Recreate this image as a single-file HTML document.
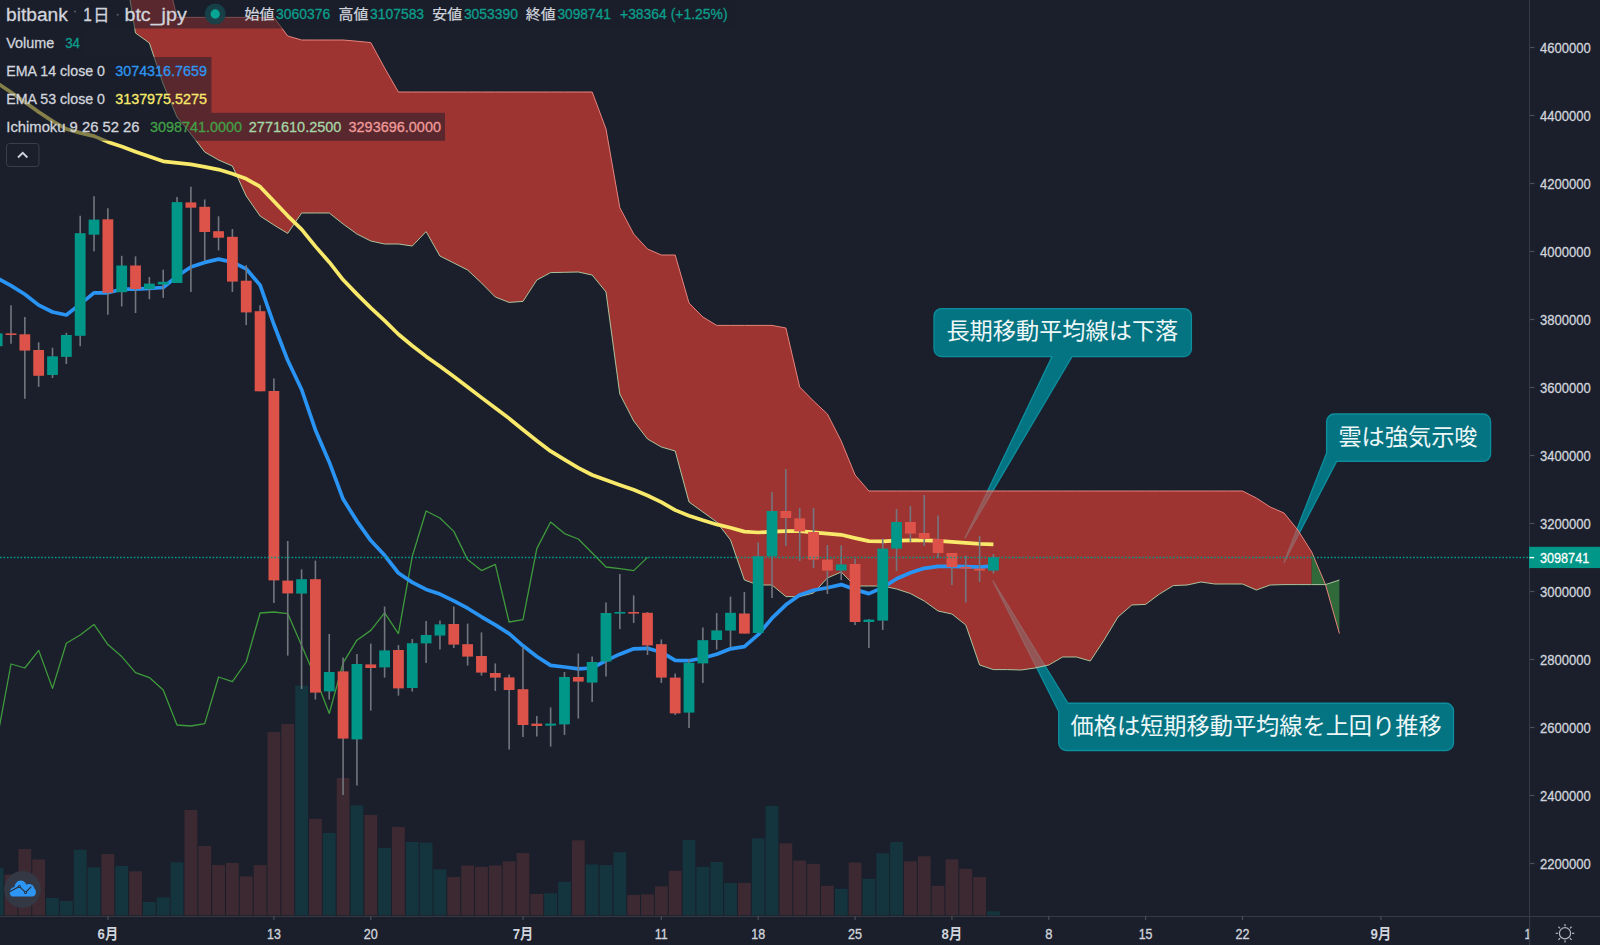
<!DOCTYPE html>
<html lang="ja"><head><meta charset="utf-8"><title>bitbank btc_jpy 1日</title>
<style>html,body{margin:0;padding:0;background:#1a1f2b;overflow:hidden}body{width:1600px;height:945px;position:relative}</style></head>
<body>
<svg width="1600" height="945" viewBox="0 0 1600 945" style="display:block;position:absolute;left:0;top:0">
<rect width="1600" height="945" fill="#1a1f2b"/>
<g>
<rect x="-9.24" y="868.0" width="12.8" height="47.3" fill="#15353e"/>
<rect x="4.60" y="874.5" width="12.8" height="40.8" fill="#3d2932"/>
<rect x="18.44" y="849.0" width="12.8" height="66.3" fill="#3d2932"/>
<rect x="32.27" y="859.5" width="12.8" height="55.8" fill="#3d2932"/>
<rect x="46.11" y="898.0" width="12.8" height="17.3" fill="#15353e"/>
<rect x="59.95" y="901.0" width="12.8" height="14.3" fill="#15353e"/>
<rect x="73.78" y="849.7" width="12.8" height="65.6" fill="#15353e"/>
<rect x="87.62" y="867.4" width="12.8" height="47.9" fill="#15353e"/>
<rect x="101.46" y="854.0" width="12.8" height="61.3" fill="#3d2932"/>
<rect x="115.30" y="866.0" width="12.8" height="49.3" fill="#15353e"/>
<rect x="129.13" y="871.3" width="12.8" height="44.0" fill="#3d2932"/>
<rect x="142.97" y="902.0" width="12.8" height="13.3" fill="#15353e"/>
<rect x="156.81" y="897.4" width="12.8" height="17.9" fill="#15353e"/>
<rect x="170.64" y="862.3" width="12.8" height="53.0" fill="#15353e"/>
<rect x="184.48" y="810.0" width="12.8" height="105.3" fill="#3d2932"/>
<rect x="198.32" y="846.0" width="12.8" height="69.3" fill="#3d2932"/>
<rect x="212.16" y="865.0" width="12.8" height="50.3" fill="#3d2932"/>
<rect x="225.99" y="863.0" width="12.8" height="52.3" fill="#3d2932"/>
<rect x="239.83" y="876.4" width="12.8" height="38.9" fill="#3d2932"/>
<rect x="253.67" y="865.0" width="12.8" height="50.3" fill="#3d2932"/>
<rect x="267.50" y="732.0" width="12.8" height="183.3" fill="#3d2932"/>
<rect x="281.34" y="724.0" width="12.8" height="191.3" fill="#3d2932"/>
<rect x="295.18" y="685.6" width="12.8" height="229.7" fill="#15353e"/>
<rect x="309.01" y="818.9" width="12.8" height="96.4" fill="#3d2932"/>
<rect x="322.85" y="832.9" width="12.8" height="82.4" fill="#15353e"/>
<rect x="336.69" y="778.0" width="12.8" height="137.3" fill="#3d2932"/>
<rect x="350.53" y="805.4" width="12.8" height="109.9" fill="#15353e"/>
<rect x="364.36" y="815.0" width="12.8" height="100.3" fill="#3d2932"/>
<rect x="378.20" y="848.0" width="12.8" height="67.3" fill="#15353e"/>
<rect x="392.04" y="827.0" width="12.8" height="88.3" fill="#3d2932"/>
<rect x="405.87" y="842.0" width="12.8" height="73.3" fill="#15353e"/>
<rect x="419.71" y="842.5" width="12.8" height="72.8" fill="#15353e"/>
<rect x="433.55" y="869.3" width="12.8" height="46.0" fill="#15353e"/>
<rect x="447.38" y="877.0" width="12.8" height="38.3" fill="#3d2932"/>
<rect x="461.22" y="865.5" width="12.8" height="49.8" fill="#3d2932"/>
<rect x="475.06" y="866.8" width="12.8" height="48.5" fill="#3d2932"/>
<rect x="488.90" y="865.5" width="12.8" height="49.8" fill="#3d2932"/>
<rect x="502.73" y="861.3" width="12.8" height="54.0" fill="#3d2932"/>
<rect x="516.57" y="853.0" width="12.8" height="62.3" fill="#3d2932"/>
<rect x="530.41" y="894.0" width="12.8" height="21.3" fill="#3d2932"/>
<rect x="544.24" y="893.3" width="12.8" height="22.0" fill="#15353e"/>
<rect x="558.08" y="881.8" width="12.8" height="33.5" fill="#15353e"/>
<rect x="571.92" y="840.3" width="12.8" height="75.0" fill="#3d2932"/>
<rect x="585.75" y="864.5" width="12.8" height="50.8" fill="#15353e"/>
<rect x="599.59" y="865.0" width="12.8" height="50.3" fill="#15353e"/>
<rect x="613.43" y="852.3" width="12.8" height="63.0" fill="#15353e"/>
<rect x="627.26" y="895.0" width="12.8" height="20.3" fill="#3d2932"/>
<rect x="641.10" y="894.3" width="12.8" height="21.0" fill="#3d2932"/>
<rect x="654.94" y="886.3" width="12.8" height="29.0" fill="#3d2932"/>
<rect x="668.78" y="870.8" width="12.8" height="44.5" fill="#3d2932"/>
<rect x="682.61" y="840.0" width="12.8" height="75.3" fill="#15353e"/>
<rect x="696.45" y="866.8" width="12.8" height="48.5" fill="#15353e"/>
<rect x="710.29" y="862.0" width="12.8" height="53.3" fill="#15353e"/>
<rect x="724.12" y="883.0" width="12.8" height="32.3" fill="#15353e"/>
<rect x="737.96" y="883.0" width="12.8" height="32.3" fill="#3d2932"/>
<rect x="751.80" y="838.3" width="12.8" height="77.0" fill="#15353e"/>
<rect x="765.63" y="805.8" width="12.8" height="109.5" fill="#15353e"/>
<rect x="779.47" y="843.3" width="12.8" height="72.0" fill="#3d2932"/>
<rect x="793.31" y="860.5" width="12.8" height="54.8" fill="#3d2932"/>
<rect x="807.15" y="863.8" width="12.8" height="51.5" fill="#3d2932"/>
<rect x="820.98" y="885.8" width="12.8" height="29.5" fill="#3d2932"/>
<rect x="834.82" y="888.8" width="12.8" height="26.5" fill="#15353e"/>
<rect x="848.66" y="862.5" width="12.8" height="52.8" fill="#3d2932"/>
<rect x="862.49" y="878.8" width="12.8" height="36.5" fill="#15353e"/>
<rect x="876.33" y="853.3" width="12.8" height="62.0" fill="#15353e"/>
<rect x="890.17" y="842.0" width="12.8" height="73.3" fill="#15353e"/>
<rect x="904.00" y="861.3" width="12.8" height="54.0" fill="#3d2932"/>
<rect x="917.84" y="856.3" width="12.8" height="59.0" fill="#3d2932"/>
<rect x="931.68" y="885.8" width="12.8" height="29.5" fill="#3d2932"/>
<rect x="945.52" y="859.3" width="12.8" height="56.0" fill="#3d2932"/>
<rect x="959.35" y="868.8" width="12.8" height="46.5" fill="#3d2932"/>
<rect x="973.19" y="877.0" width="12.8" height="38.3" fill="#3d2932"/>
<rect x="987.03" y="911.3" width="12.8" height="4.0" fill="#15353e"/>
</g>
<path d="M941.5,308.6 L1183.9,308.6 A7.5,7.5 0 0 1 1191.4,316.1 L1191.4,349.1 A7.5,7.5 0 0 1 1183.9,356.6 L1072,356.6 L965,538 L1052,356.6 L941.5,356.6 A7.5,7.5 0 0 1 934,349.1 L934,316.1 A7.5,7.5 0 0 1 941.5,308.6 Z" fill="#047482" stroke="#0c8e9e" stroke-width="1.3" stroke-linejoin="round"/>
<path d="M1334.1,414 L1483.1,414 A7.5,7.5 0 0 1 1490.6,421.5 L1490.6,453.9 A7.5,7.5 0 0 1 1483.1,461.4 L1336.6,461.4 L1284,562.4 L1326.6,453 L1326.6,421.5 A7.5,7.5 0 0 1 1334.1,414 Z" fill="#047482" stroke="#0c8e9e" stroke-width="1.3" stroke-linejoin="round"/>
<path d="M1068,703.25 L1446.0,703.25 A7.5,7.5 0 0 1 1453.5,710.75 L1453.5,743.0 A7.5,7.5 0 0 1 1446.0,750.5 L1066.2,750.5 A7.5,7.5 0 0 1 1058.7,743.0 L1058.7,711.5 L993,581 Z" fill="#047482" stroke="#0c8e9e" stroke-width="1.3" stroke-linejoin="round"/>
<polygon points="163.2,-40.0 177.0,17.4 190.9,17.4 204.7,17.4 218.6,17.4 232.4,17.4 246.2,17.4 260.1,17.4 273.9,17.4 287.7,36.0 301.6,40.0 315.4,40.0 329.3,40.0 343.1,40.0 356.9,41.2 370.8,42.6 384.6,68.0 398.4,92.0 412.3,92.0 426.1,92.0 439.9,92.0 453.8,92.0 467.6,92.0 481.5,92.0 495.3,92.0 509.1,92.0 523.0,92.0 536.8,92.0 550.6,92.0 564.5,92.0 578.3,92.0 592.2,92.0 606.0,129.0 619.8,207.6 633.7,234.0 647.5,249.0 661.3,255.0 675.2,255.0 689.0,303.0 702.9,317.0 716.7,325.4 730.5,325.4 744.4,325.4 758.2,325.4 772.0,325.4 785.9,328.0 799.7,387.0 813.5,401.0 827.4,414.0 841.2,441.0 855.1,475.0 868.9,491.0 882.7,491.0 896.6,491.0 910.4,491.0 924.2,491.0 938.1,491.0 951.9,491.0 965.8,491.0 979.6,491.0 993.4,491.0 1007.3,491.0 1021.1,491.0 1034.9,491.0 1048.8,491.0 1062.6,491.0 1076.4,491.0 1090.3,491.0 1104.1,491.0 1118.0,491.0 1131.8,491.0 1145.6,491.0 1159.5,491.0 1173.3,491.0 1187.1,491.0 1201.0,491.0 1214.8,491.0 1228.7,491.0 1242.5,491.0 1256.3,498.0 1270.2,507.0 1284.0,513.0 1297.8,530.0 1311.7,552.0 1311.7,584.6 1297.8,584.6 1284.0,584.6 1270.2,585.0 1256.3,590.0 1242.5,584.0 1228.7,584.0 1214.8,584.0 1201.0,582.0 1187.1,585.0 1173.3,585.6 1159.5,594.0 1145.6,604.4 1131.8,605.0 1118.0,617.0 1104.1,640.0 1090.3,661.0 1076.4,657.0 1062.6,657.0 1048.8,665.0 1034.9,668.0 1021.1,670.0 1007.3,669.6 993.4,669.6 979.6,665.0 965.8,625.0 951.9,614.0 938.1,611.0 924.2,601.0 910.4,593.5 896.6,589.0 882.7,586.0 868.9,586.0 855.1,586.0 841.2,572.0 827.4,578.0 813.5,593.0 799.7,596.6 785.9,596.6 772.0,585.0 758.2,585.0 744.4,580.0 730.5,540.0 716.7,522.0 702.9,512.0 689.0,502.0 675.2,451.0 661.3,447.0 647.5,439.0 633.7,421.0 619.8,394.0 606.0,292.0 592.2,275.0 578.3,272.0 564.5,272.3 550.6,272.6 536.8,280.0 523.0,301.4 509.1,302.4 495.3,297.0 481.5,283.0 467.6,270.0 453.8,263.0 439.9,256.0 426.1,231.6 412.3,246.0 398.4,244.0 384.6,244.0 370.8,241.0 356.9,234.0 343.1,224.0 329.3,213.0 315.4,213.0 301.6,213.0 287.7,233.4 273.9,225.0 260.1,216.0 246.2,196.0 232.4,166.0 218.6,160.0 204.7,152.0 190.9,134.0 177.0,117.0 163.2,84.0 149.4,43.0 135.5,33.0 121.7,-50.0" fill="rgba(244,67,54,0.603)"/>
<polygon points="1311.7,552.0 1325.5,584.6 1311.7,584.6" fill="#316a3a"/>
<polygon points="1325.5,584.6 1339.4,580.0 1339.4,633.5" fill="#316a3a"/>
<polyline fill="none" stroke="#e8837c" stroke-width="1" points="163.2,-40.0 177.0,17.4 190.9,17.4 204.7,17.4 218.6,17.4 232.4,17.4 246.2,17.4 260.1,17.4 273.9,17.4 287.7,36.0 301.6,40.0 315.4,40.0 329.3,40.0 343.1,40.0 356.9,41.2 370.8,42.6 384.6,68.0 398.4,92.0 412.3,92.0 426.1,92.0 439.9,92.0 453.8,92.0 467.6,92.0 481.5,92.0 495.3,92.0 509.1,92.0 523.0,92.0 536.8,92.0 550.6,92.0 564.5,92.0 578.3,92.0 592.2,92.0 606.0,129.0 619.8,207.6 633.7,234.0 647.5,249.0 661.3,255.0 675.2,255.0 689.0,303.0 702.9,317.0 716.7,325.4 730.5,325.4 744.4,325.4 758.2,325.4 772.0,325.4 785.9,328.0 799.7,387.0 813.5,401.0 827.4,414.0 841.2,441.0 855.1,475.0 868.9,491.0 882.7,491.0 896.6,491.0 910.4,491.0 924.2,491.0 938.1,491.0 951.9,491.0 965.8,491.0 979.6,491.0 993.4,491.0 1007.3,491.0 1021.1,491.0 1034.9,491.0 1048.8,491.0 1062.6,491.0 1076.4,491.0 1090.3,491.0 1104.1,491.0 1118.0,491.0 1131.8,491.0 1145.6,491.0 1159.5,491.0 1173.3,491.0 1187.1,491.0 1201.0,491.0 1214.8,491.0 1228.7,491.0 1242.5,491.0 1256.3,498.0 1270.2,507.0 1284.0,513.0 1297.8,530.0 1311.7,552.0 1325.5,584.6 1339.4,633.5"/>
<polyline fill="none" stroke="#b4d3a6" stroke-width="1" stroke-opacity="0.9" points="121.7,-50.0 135.5,33.0 149.4,43.0 163.2,84.0 177.0,117.0 190.9,134.0 204.7,152.0 218.6,160.0 232.4,166.0 246.2,196.0 260.1,216.0 273.9,225.0 287.7,233.4 301.6,213.0 315.4,213.0 329.3,213.0 343.1,224.0 356.9,234.0 370.8,241.0 384.6,244.0 398.4,244.0 412.3,246.0 426.1,231.6 439.9,256.0 453.8,263.0 467.6,270.0 481.5,283.0 495.3,297.0 509.1,302.4 523.0,301.4 536.8,280.0 550.6,272.6 564.5,272.3 578.3,272.0 592.2,275.0 606.0,292.0 619.8,394.0 633.7,421.0 647.5,439.0 661.3,447.0 675.2,451.0 689.0,502.0 702.9,512.0 716.7,522.0 730.5,540.0 744.4,580.0 758.2,585.0 772.0,585.0 785.9,596.6 799.7,596.6 813.5,593.0 827.4,578.0 841.2,572.0 855.1,586.0 868.9,586.0 882.7,586.0 896.6,589.0 910.4,593.5 924.2,601.0 938.1,611.0 951.9,614.0 965.8,625.0 979.6,665.0 993.4,669.6 1007.3,669.6 1021.1,670.0 1034.9,668.0 1048.8,665.0 1062.6,657.0 1076.4,657.0 1090.3,661.0 1104.1,640.0 1118.0,617.0 1131.8,605.0 1145.6,604.4 1159.5,594.0 1173.3,585.6 1187.1,585.0 1201.0,582.0 1214.8,584.0 1228.7,584.0 1242.5,584.0 1256.3,590.0 1270.2,585.0 1284.0,584.6 1297.8,584.6 1311.7,584.6 1325.5,584.6 1339.4,580.0"/>
<polyline fill="none" stroke="#3f9a3c" stroke-width="1.3" stroke-linejoin="round" points="-2.8,738.6 11.0,664.0 24.8,668.0 38.7,650.4 52.5,688.4 66.3,643.2 80.2,635.0 94.0,624.4 107.9,644.6 121.7,656.6 135.5,672.6 149.4,677.6 163.2,690.0 177.0,725.0 190.9,726.0 204.7,723.6 218.6,677.0 232.4,681.6 246.2,662.0 260.1,613.0 273.9,612.0 287.7,613.6 301.6,645.4 315.4,677.6 329.3,713.4 343.1,662.8 356.9,640.2 370.8,630.4 384.6,612.8 398.4,633.6 412.3,556.2 426.1,511.0 439.9,518.0 453.8,531.4 467.6,559.6 481.5,570.6 495.3,564.4 509.1,622.0 523.0,619.6 536.8,548.6 550.6,522.0 564.5,533.6 578.3,539.0 592.2,553.0 606.0,567.0 619.8,568.6 633.7,570.6 647.5,557.4"/>
<polyline fill="none" stroke="#f9e96b" stroke-width="3.7" stroke-linejoin="round" stroke-linecap="butt" points="-2.8,83.0 11.0,92.3 24.8,101.9 38.7,112.0 52.5,121.1 66.3,129.0 80.2,132.9 94.0,136.1 107.9,141.9 121.7,146.5 135.5,151.7 149.4,156.6 163.2,161.3 177.0,162.8 190.9,164.4 204.7,166.9 218.6,169.6 232.4,173.7 246.2,178.8 260.1,186.7 273.9,201.3 287.7,215.8 301.6,229.3 315.4,246.4 329.3,262.2 343.1,279.8 356.9,294.1 370.8,307.9 384.6,320.6 398.4,334.2 412.3,345.7 426.1,356.4 439.9,366.3 453.8,376.6 467.6,387.0 481.5,397.6 495.3,407.9 509.1,418.4 523.0,429.7 536.8,440.7 550.6,451.2 564.5,459.6 578.3,467.8 592.2,475.0 606.0,480.1 619.8,485.0 633.7,489.7 647.5,495.5 661.3,502.2 675.2,510.1 689.0,515.7 702.9,520.3 716.7,524.4 730.5,527.7 744.4,531.6 758.2,532.5 772.0,531.7 785.9,531.2 799.7,531.2 813.5,532.3 827.4,533.7 841.2,534.8 855.1,538.1 868.9,541.1 882.7,541.4 896.6,540.6 910.4,540.4 924.2,540.3 938.1,540.8 951.9,541.8 965.8,542.8 979.6,543.8 993.4,544.3"/>
<polyline fill="none" stroke="#2a94f4" stroke-width="3.7" stroke-linejoin="round" stroke-linecap="butt" points="-2.8,278.0 11.0,285.6 24.8,294.3 38.7,305.1 52.5,312.0 66.3,315.0 80.2,304.1 94.0,292.9 107.9,292.8 121.7,289.2 135.5,289.2 149.4,288.4 163.2,287.5 177.0,276.2 190.9,267.0 204.7,262.4 218.6,259.1 232.4,262.1 246.2,268.8 260.1,285.1 273.9,324.5 287.7,360.3 301.6,389.5 315.4,429.9 329.3,462.2 343.1,499.1 356.9,521.1 370.8,540.6 384.6,555.3 398.4,573.0 412.3,582.4 426.1,589.4 439.9,594.1 453.8,600.8 467.6,608.2 481.5,616.8 495.3,624.9 509.1,633.6 523.0,645.8 536.8,656.5 550.6,665.4 564.5,667.0 578.3,668.9 592.2,668.0 606.0,660.7 619.8,654.2 633.7,648.8 647.5,648.3 661.3,652.2 675.2,660.4 689.0,660.7 702.9,658.0 716.7,654.3 730.5,648.8 744.4,646.7 758.2,634.7 772.0,618.2 785.9,604.8 799.7,595.0 813.5,590.3 827.4,587.7 841.2,584.6 855.1,589.6 868.9,593.6 882.7,587.6 896.6,578.8 910.4,572.8 924.2,568.3 938.1,566.3 951.9,566.4 965.8,566.7 979.6,567.2 993.4,565.9"/>
<line x1="-2.84" x2="-2.84" y1="325.0" y2="350.0" stroke="#73767e" stroke-width="1.6"/>
<line x1="11.00" x2="11.00" y1="305.3" y2="343.8" stroke="#73767e" stroke-width="1.6"/>
<line x1="24.84" x2="24.84" y1="317.0" y2="398.7" stroke="#73767e" stroke-width="1.6"/>
<line x1="38.67" x2="38.67" y1="342.3" y2="386.8" stroke="#73767e" stroke-width="1.6"/>
<line x1="52.51" x2="52.51" y1="347.7" y2="378.0" stroke="#73767e" stroke-width="1.6"/>
<line x1="66.35" x2="66.35" y1="332.8" y2="364.0" stroke="#73767e" stroke-width="1.6"/>
<line x1="80.19" x2="80.19" y1="215.7" y2="346.2" stroke="#73767e" stroke-width="1.6"/>
<line x1="94.02" x2="94.02" y1="196.2" y2="251.3" stroke="#73767e" stroke-width="1.6"/>
<line x1="107.86" x2="107.86" y1="208.3" y2="314.8" stroke="#73767e" stroke-width="1.6"/>
<line x1="121.70" x2="121.70" y1="255.8" y2="306.5" stroke="#73767e" stroke-width="1.6"/>
<line x1="135.53" x2="135.53" y1="256.4" y2="313.0" stroke="#73767e" stroke-width="1.6"/>
<line x1="149.37" x2="149.37" y1="277.0" y2="299.3" stroke="#73767e" stroke-width="1.6"/>
<line x1="163.21" x2="163.21" y1="269.7" y2="297.9" stroke="#73767e" stroke-width="1.6"/>
<line x1="177.04" x2="177.04" y1="197.0" y2="283.0" stroke="#73767e" stroke-width="1.6"/>
<line x1="190.88" x2="190.88" y1="186.7" y2="292.0" stroke="#73767e" stroke-width="1.6"/>
<line x1="204.72" x2="204.72" y1="199.4" y2="260.8" stroke="#73767e" stroke-width="1.6"/>
<line x1="218.56" x2="218.56" y1="216.3" y2="250.4" stroke="#73767e" stroke-width="1.6"/>
<line x1="232.39" x2="232.39" y1="229.0" y2="292.0" stroke="#73767e" stroke-width="1.6"/>
<line x1="246.23" x2="246.23" y1="265.2" y2="325.1" stroke="#73767e" stroke-width="1.6"/>
<line x1="260.07" x2="260.07" y1="305.3" y2="391.3" stroke="#73767e" stroke-width="1.6"/>
<line x1="273.90" x2="273.90" y1="378.5" y2="603.0" stroke="#73767e" stroke-width="1.6"/>
<line x1="287.74" x2="287.74" y1="541.0" y2="655.6" stroke="#73767e" stroke-width="1.6"/>
<line x1="301.58" x2="301.58" y1="569.4" y2="689.0" stroke="#73767e" stroke-width="1.6"/>
<line x1="315.41" x2="315.41" y1="560.6" y2="699.6" stroke="#73767e" stroke-width="1.6"/>
<line x1="329.25" x2="329.25" y1="634.0" y2="699.6" stroke="#73767e" stroke-width="1.6"/>
<line x1="343.09" x2="343.09" y1="657.6" y2="795.0" stroke="#73767e" stroke-width="1.6"/>
<line x1="356.93" x2="356.93" y1="654.0" y2="785.4" stroke="#73767e" stroke-width="1.6"/>
<line x1="370.76" x2="370.76" y1="643.6" y2="710.6" stroke="#73767e" stroke-width="1.6"/>
<line x1="384.60" x2="384.60" y1="606.6" y2="677.6" stroke="#73767e" stroke-width="1.6"/>
<line x1="398.44" x2="398.44" y1="645.0" y2="695.6" stroke="#73767e" stroke-width="1.6"/>
<line x1="412.27" x2="412.27" y1="639.0" y2="691.6" stroke="#73767e" stroke-width="1.6"/>
<line x1="426.11" x2="426.11" y1="621.0" y2="663.0" stroke="#73767e" stroke-width="1.6"/>
<line x1="439.95" x2="439.95" y1="620.4" y2="649.6" stroke="#73767e" stroke-width="1.6"/>
<line x1="453.78" x2="453.78" y1="606.6" y2="648.0" stroke="#73767e" stroke-width="1.6"/>
<line x1="467.62" x2="467.62" y1="623.6" y2="665.6" stroke="#73767e" stroke-width="1.6"/>
<line x1="481.46" x2="481.46" y1="632.4" y2="675.6" stroke="#73767e" stroke-width="1.6"/>
<line x1="495.30" x2="495.30" y1="663.4" y2="691.0" stroke="#73767e" stroke-width="1.6"/>
<line x1="509.13" x2="509.13" y1="674.4" y2="749.6" stroke="#73767e" stroke-width="1.6"/>
<line x1="522.97" x2="522.97" y1="647.0" y2="737.0" stroke="#73767e" stroke-width="1.6"/>
<line x1="536.81" x2="536.81" y1="716.0" y2="736.6" stroke="#73767e" stroke-width="1.6"/>
<line x1="550.64" x2="550.64" y1="707.4" y2="746.6" stroke="#73767e" stroke-width="1.6"/>
<line x1="564.48" x2="564.48" y1="672.0" y2="735.0" stroke="#73767e" stroke-width="1.6"/>
<line x1="578.32" x2="578.32" y1="653.5" y2="718.6" stroke="#73767e" stroke-width="1.6"/>
<line x1="592.15" x2="592.15" y1="656.5" y2="702.0" stroke="#73767e" stroke-width="1.6"/>
<line x1="605.99" x2="605.99" y1="602.6" y2="676.6" stroke="#73767e" stroke-width="1.6"/>
<line x1="619.83" x2="619.83" y1="574.0" y2="629.0" stroke="#73767e" stroke-width="1.6"/>
<line x1="633.66" x2="633.66" y1="595.4" y2="623.0" stroke="#73767e" stroke-width="1.6"/>
<line x1="647.50" x2="647.50" y1="612.0" y2="655.0" stroke="#73767e" stroke-width="1.6"/>
<line x1="661.34" x2="661.34" y1="639.4" y2="683.0" stroke="#73767e" stroke-width="1.6"/>
<line x1="675.18" x2="675.18" y1="673.4" y2="715.0" stroke="#73767e" stroke-width="1.6"/>
<line x1="689.01" x2="689.01" y1="659.6" y2="728.0" stroke="#73767e" stroke-width="1.6"/>
<line x1="702.85" x2="702.85" y1="627.4" y2="683.0" stroke="#73767e" stroke-width="1.6"/>
<line x1="716.69" x2="716.69" y1="613.0" y2="649.6" stroke="#73767e" stroke-width="1.6"/>
<line x1="730.52" x2="730.52" y1="596.6" y2="647.0" stroke="#73767e" stroke-width="1.6"/>
<line x1="744.36" x2="744.36" y1="592.0" y2="633.6" stroke="#73767e" stroke-width="1.6"/>
<line x1="758.20" x2="758.20" y1="542.4" y2="633.0" stroke="#73767e" stroke-width="1.6"/>
<line x1="772.03" x2="772.03" y1="492.0" y2="598.0" stroke="#73767e" stroke-width="1.6"/>
<line x1="785.87" x2="785.87" y1="469.0" y2="546.0" stroke="#73767e" stroke-width="1.6"/>
<line x1="799.71" x2="799.71" y1="508.0" y2="561.0" stroke="#73767e" stroke-width="1.6"/>
<line x1="813.55" x2="813.55" y1="508.0" y2="568.0" stroke="#73767e" stroke-width="1.6"/>
<line x1="827.38" x2="827.38" y1="545.0" y2="594.0" stroke="#73767e" stroke-width="1.6"/>
<line x1="841.22" x2="841.22" y1="545.4" y2="580.0" stroke="#73767e" stroke-width="1.6"/>
<line x1="855.06" x2="855.06" y1="559.0" y2="625.0" stroke="#73767e" stroke-width="1.6"/>
<line x1="868.89" x2="868.89" y1="619.0" y2="648.0" stroke="#73767e" stroke-width="1.6"/>
<line x1="882.73" x2="882.73" y1="538.6" y2="630.0" stroke="#73767e" stroke-width="1.6"/>
<line x1="896.57" x2="896.57" y1="509.0" y2="571.0" stroke="#73767e" stroke-width="1.6"/>
<line x1="910.40" x2="910.40" y1="506.0" y2="542.0" stroke="#73767e" stroke-width="1.6"/>
<line x1="924.24" x2="924.24" y1="495.0" y2="546.0" stroke="#73767e" stroke-width="1.6"/>
<line x1="938.08" x2="938.08" y1="515.4" y2="558.0" stroke="#73767e" stroke-width="1.6"/>
<line x1="951.92" x2="951.92" y1="553.0" y2="585.0" stroke="#73767e" stroke-width="1.6"/>
<line x1="965.75" x2="965.75" y1="555.6" y2="602.4" stroke="#73767e" stroke-width="1.6"/>
<line x1="979.59" x2="979.59" y1="536.0" y2="582.0" stroke="#73767e" stroke-width="1.6"/>
<line x1="993.43" x2="993.43" y1="554.0" y2="573.6" stroke="#73767e" stroke-width="1.6"/>
<rect x="-8.24" y="333.4" width="10.8" height="12.8" fill="#009688"/>
<rect x="5.60" y="333.4" width="10.8" height="1.6" fill="#dd534a"/>
<rect x="19.44" y="334.3" width="10.8" height="16.3" fill="#dd534a"/>
<rect x="33.27" y="350.0" width="10.8" height="25.8" fill="#dd534a"/>
<rect x="47.11" y="356.3" width="10.8" height="18.7" fill="#009688"/>
<rect x="60.95" y="335.0" width="10.8" height="21.9" fill="#009688"/>
<rect x="74.78" y="233.2" width="10.8" height="102.6" fill="#009688"/>
<rect x="88.62" y="219.6" width="10.8" height="15.1" fill="#009688"/>
<rect x="102.46" y="219.3" width="10.8" height="73.5" fill="#dd534a"/>
<rect x="116.30" y="265.5" width="10.8" height="26.7" fill="#009688"/>
<rect x="130.13" y="265.5" width="10.8" height="23.5" fill="#dd534a"/>
<rect x="143.97" y="283.6" width="10.8" height="5.4" fill="#009688"/>
<rect x="157.81" y="281.8" width="10.8" height="2.7" fill="#009688"/>
<rect x="171.64" y="202.1" width="10.8" height="80.9" fill="#009688"/>
<rect x="185.48" y="202.4" width="10.8" height="5.3" fill="#dd534a"/>
<rect x="199.32" y="206.8" width="10.8" height="25.2" fill="#dd534a"/>
<rect x="213.16" y="231.2" width="10.8" height="6.5" fill="#dd534a"/>
<rect x="226.99" y="236.8" width="10.8" height="44.8" fill="#dd534a"/>
<rect x="240.83" y="280.7" width="10.8" height="31.7" fill="#dd534a"/>
<rect x="254.67" y="311.2" width="10.8" height="80.1" fill="#dd534a"/>
<rect x="268.50" y="391.0" width="10.8" height="189.4" fill="#dd534a"/>
<rect x="282.34" y="580.6" width="10.8" height="12.8" fill="#dd534a"/>
<rect x="296.18" y="579.2" width="10.8" height="14.4" fill="#009688"/>
<rect x="310.01" y="579.2" width="10.8" height="113.4" fill="#dd534a"/>
<rect x="323.85" y="672.0" width="10.8" height="19.4" fill="#009688"/>
<rect x="337.69" y="671.4" width="10.8" height="67.2" fill="#dd534a"/>
<rect x="351.53" y="664.0" width="10.8" height="75.4" fill="#009688"/>
<rect x="365.36" y="664.4" width="10.8" height="3.6" fill="#dd534a"/>
<rect x="379.20" y="650.4" width="10.8" height="17.0" fill="#009688"/>
<rect x="393.04" y="650.0" width="10.8" height="38.4" fill="#dd534a"/>
<rect x="406.87" y="643.2" width="10.8" height="44.8" fill="#009688"/>
<rect x="420.71" y="635.0" width="10.8" height="8.4" fill="#009688"/>
<rect x="434.55" y="624.4" width="10.8" height="11.2" fill="#009688"/>
<rect x="448.38" y="624.0" width="10.8" height="20.6" fill="#dd534a"/>
<rect x="462.22" y="644.2" width="10.8" height="12.4" fill="#dd534a"/>
<rect x="476.06" y="656.0" width="10.8" height="16.6" fill="#dd534a"/>
<rect x="489.90" y="673.0" width="10.8" height="4.6" fill="#dd534a"/>
<rect x="503.73" y="677.4" width="10.8" height="12.6" fill="#dd534a"/>
<rect x="517.57" y="689.2" width="10.8" height="35.8" fill="#dd534a"/>
<rect x="531.41" y="723.6" width="10.8" height="2.4" fill="#dd534a"/>
<rect x="545.24" y="723.6" width="10.8" height="2.0" fill="#009688"/>
<rect x="559.08" y="677.0" width="10.8" height="47.4" fill="#009688"/>
<rect x="572.92" y="677.0" width="10.8" height="4.6" fill="#dd534a"/>
<rect x="586.75" y="662.0" width="10.8" height="20.6" fill="#009688"/>
<rect x="600.59" y="613.0" width="10.8" height="48.6" fill="#009688"/>
<rect x="614.43" y="612.0" width="10.8" height="1.6" fill="#009688"/>
<rect x="628.26" y="612.0" width="10.8" height="1.6" fill="#dd534a"/>
<rect x="642.10" y="612.8" width="10.8" height="32.6" fill="#dd534a"/>
<rect x="655.94" y="644.2" width="10.8" height="33.4" fill="#dd534a"/>
<rect x="669.78" y="677.6" width="10.8" height="35.8" fill="#dd534a"/>
<rect x="683.61" y="662.8" width="10.8" height="49.8" fill="#009688"/>
<rect x="697.45" y="640.2" width="10.8" height="23.2" fill="#009688"/>
<rect x="711.29" y="630.4" width="10.8" height="9.6" fill="#009688"/>
<rect x="725.12" y="612.8" width="10.8" height="17.8" fill="#009688"/>
<rect x="738.96" y="613.5" width="10.8" height="20.1" fill="#dd534a"/>
<rect x="752.80" y="556.2" width="10.8" height="76.8" fill="#009688"/>
<rect x="766.63" y="511.0" width="10.8" height="45.4" fill="#009688"/>
<rect x="780.47" y="511.0" width="10.8" height="7.0" fill="#dd534a"/>
<rect x="794.31" y="518.4" width="10.8" height="13.0" fill="#dd534a"/>
<rect x="808.15" y="532.0" width="10.8" height="27.6" fill="#dd534a"/>
<rect x="821.98" y="559.6" width="10.8" height="11.0" fill="#dd534a"/>
<rect x="835.82" y="564.4" width="10.8" height="6.2" fill="#009688"/>
<rect x="849.66" y="564.0" width="10.8" height="58.0" fill="#dd534a"/>
<rect x="863.49" y="619.6" width="10.8" height="2.4" fill="#009688"/>
<rect x="877.33" y="548.6" width="10.8" height="72.0" fill="#009688"/>
<rect x="891.17" y="522.0" width="10.8" height="26.6" fill="#009688"/>
<rect x="905.00" y="522.0" width="10.8" height="11.6" fill="#dd534a"/>
<rect x="918.84" y="533.0" width="10.8" height="6.0" fill="#dd534a"/>
<rect x="932.68" y="539.0" width="10.8" height="14.0" fill="#dd534a"/>
<rect x="946.52" y="553.0" width="10.8" height="14.0" fill="#dd534a"/>
<rect x="960.35" y="567.0" width="10.8" height="1.6" fill="#dd534a"/>
<rect x="974.19" y="568.6" width="10.8" height="2.0" fill="#dd534a"/>
<rect x="988.03" y="557.4" width="10.8" height="13.2" fill="#009688"/>
<line x1="0" x2="1529" y1="557.5" y2="557.5" stroke="#0a9a8b" stroke-width="1.7" stroke-dasharray="1.6 1.83"/>
<rect x="1529.5" y="0" width="71" height="945" fill="#1a1f2b"/>
<rect x="0" y="916" width="1600" height="30" fill="#1a1f2b"/>
<rect x="1529" y="0" width="1" height="945" fill="#363a45"/>
<rect x="0" y="916" width="1600" height="1" fill="#363a45"/>
<rect x="1530" y="46.9" width="4.5" height="1.2" fill="#4a4e59"/>
<text x="1540" y="53.0" font-family="'Liberation Sans','Noto Sans CJK JP',sans-serif" font-size="15" fill="#d1d4dc" textLength="50.8" lengthAdjust="spacingAndGlyphs" stroke="#d1d4dc" stroke-width="0.3" >4600000</text>
<rect x="1530" y="114.9" width="4.5" height="1.2" fill="#4a4e59"/>
<text x="1540" y="121.0" font-family="'Liberation Sans','Noto Sans CJK JP',sans-serif" font-size="15" fill="#d1d4dc" textLength="50.8" lengthAdjust="spacingAndGlyphs" stroke="#d1d4dc" stroke-width="0.3" >4400000</text>
<rect x="1530" y="182.9" width="4.5" height="1.2" fill="#4a4e59"/>
<text x="1540" y="189.0" font-family="'Liberation Sans','Noto Sans CJK JP',sans-serif" font-size="15" fill="#d1d4dc" textLength="50.8" lengthAdjust="spacingAndGlyphs" stroke="#d1d4dc" stroke-width="0.3" >4200000</text>
<rect x="1530" y="250.9" width="4.5" height="1.2" fill="#4a4e59"/>
<text x="1540" y="257.0" font-family="'Liberation Sans','Noto Sans CJK JP',sans-serif" font-size="15" fill="#d1d4dc" textLength="50.8" lengthAdjust="spacingAndGlyphs" stroke="#d1d4dc" stroke-width="0.3" >4000000</text>
<rect x="1530" y="318.9" width="4.5" height="1.2" fill="#4a4e59"/>
<text x="1540" y="325.0" font-family="'Liberation Sans','Noto Sans CJK JP',sans-serif" font-size="15" fill="#d1d4dc" textLength="50.8" lengthAdjust="spacingAndGlyphs" stroke="#d1d4dc" stroke-width="0.3" >3800000</text>
<rect x="1530" y="386.9" width="4.5" height="1.2" fill="#4a4e59"/>
<text x="1540" y="393.0" font-family="'Liberation Sans','Noto Sans CJK JP',sans-serif" font-size="15" fill="#d1d4dc" textLength="50.8" lengthAdjust="spacingAndGlyphs" stroke="#d1d4dc" stroke-width="0.3" >3600000</text>
<rect x="1530" y="454.9" width="4.5" height="1.2" fill="#4a4e59"/>
<text x="1540" y="461.0" font-family="'Liberation Sans','Noto Sans CJK JP',sans-serif" font-size="15" fill="#d1d4dc" textLength="50.8" lengthAdjust="spacingAndGlyphs" stroke="#d1d4dc" stroke-width="0.3" >3400000</text>
<rect x="1530" y="522.9" width="4.5" height="1.2" fill="#4a4e59"/>
<text x="1540" y="529.0" font-family="'Liberation Sans','Noto Sans CJK JP',sans-serif" font-size="15" fill="#d1d4dc" textLength="50.8" lengthAdjust="spacingAndGlyphs" stroke="#d1d4dc" stroke-width="0.3" >3200000</text>
<rect x="1530" y="590.9" width="4.5" height="1.2" fill="#4a4e59"/>
<text x="1540" y="597.0" font-family="'Liberation Sans','Noto Sans CJK JP',sans-serif" font-size="15" fill="#d1d4dc" textLength="50.8" lengthAdjust="spacingAndGlyphs" stroke="#d1d4dc" stroke-width="0.3" >3000000</text>
<rect x="1530" y="658.9" width="4.5" height="1.2" fill="#4a4e59"/>
<text x="1540" y="665.0" font-family="'Liberation Sans','Noto Sans CJK JP',sans-serif" font-size="15" fill="#d1d4dc" textLength="50.8" lengthAdjust="spacingAndGlyphs" stroke="#d1d4dc" stroke-width="0.3" >2800000</text>
<rect x="1530" y="726.9" width="4.5" height="1.2" fill="#4a4e59"/>
<text x="1540" y="733.0" font-family="'Liberation Sans','Noto Sans CJK JP',sans-serif" font-size="15" fill="#d1d4dc" textLength="50.8" lengthAdjust="spacingAndGlyphs" stroke="#d1d4dc" stroke-width="0.3" >2600000</text>
<rect x="1530" y="794.9" width="4.5" height="1.2" fill="#4a4e59"/>
<text x="1540" y="801.0" font-family="'Liberation Sans','Noto Sans CJK JP',sans-serif" font-size="15" fill="#d1d4dc" textLength="50.8" lengthAdjust="spacingAndGlyphs" stroke="#d1d4dc" stroke-width="0.3" >2400000</text>
<rect x="1530" y="862.9" width="4.5" height="1.2" fill="#4a4e59"/>
<text x="1540" y="869.0" font-family="'Liberation Sans','Noto Sans CJK JP',sans-serif" font-size="15" fill="#d1d4dc" textLength="50.8" lengthAdjust="spacingAndGlyphs" stroke="#d1d4dc" stroke-width="0.3" >2200000</text>
<rect x="1529" y="546.8" width="71" height="21.3" fill="#009688"/>
<rect x="1529.5" y="556.9" width="4.6" height="1.4" fill="#ffffff"/>
<text x="1540" y="563.2" font-family="'Liberation Sans','Noto Sans CJK JP',sans-serif" font-size="15" fill="#ffffff" textLength="49.2" lengthAdjust="spacingAndGlyphs" stroke="#ffffff" stroke-width="0.3" >3098741</text>
<rect x="107.3" y="916" width="1.2" height="4" fill="#4a4e59"/>
<text x="97.6" y="939.4" font-family="'Liberation Sans','Noto Sans CJK JP',sans-serif" font-size="15" fill="#d1d4dc" textLength="20.6" lengthAdjust="spacingAndGlyphs" font-weight="bold" >6月</text>
<rect x="273.3" y="916" width="1.2" height="4" fill="#4a4e59"/>
<text x="267.0" y="939.4" font-family="'Liberation Sans','Noto Sans CJK JP',sans-serif" font-size="15" fill="#d1d4dc" textLength="13.8" lengthAdjust="spacingAndGlyphs" stroke="#d1d4dc" stroke-width="0.35" >13</text>
<rect x="370.2" y="916" width="1.2" height="4" fill="#4a4e59"/>
<text x="363.8" y="939.4" font-family="'Liberation Sans','Noto Sans CJK JP',sans-serif" font-size="15" fill="#d1d4dc" textLength="14" lengthAdjust="spacingAndGlyphs" stroke="#d1d4dc" stroke-width="0.35" >20</text>
<rect x="522.4" y="916" width="1.2" height="4" fill="#4a4e59"/>
<text x="512.7" y="939.4" font-family="'Liberation Sans','Noto Sans CJK JP',sans-serif" font-size="15" fill="#d1d4dc" textLength="20.6" lengthAdjust="spacingAndGlyphs" font-weight="bold" >7月</text>
<rect x="660.7" y="916" width="1.2" height="4" fill="#4a4e59"/>
<text x="654.8" y="939.4" font-family="'Liberation Sans','Noto Sans CJK JP',sans-serif" font-size="15" fill="#d1d4dc" textLength="13.0" lengthAdjust="spacingAndGlyphs" stroke="#d1d4dc" stroke-width="0.35" >11</text>
<rect x="757.6" y="916" width="1.2" height="4" fill="#4a4e59"/>
<text x="751.2" y="939.4" font-family="'Liberation Sans','Noto Sans CJK JP',sans-serif" font-size="15" fill="#d1d4dc" textLength="13.9" lengthAdjust="spacingAndGlyphs" stroke="#d1d4dc" stroke-width="0.35" >18</text>
<rect x="854.5" y="916" width="1.2" height="4" fill="#4a4e59"/>
<text x="848.1" y="939.4" font-family="'Liberation Sans','Noto Sans CJK JP',sans-serif" font-size="15" fill="#d1d4dc" textLength="14" lengthAdjust="spacingAndGlyphs" stroke="#d1d4dc" stroke-width="0.35" >25</text>
<rect x="951.3" y="916" width="1.2" height="4" fill="#4a4e59"/>
<text x="941.6" y="939.4" font-family="'Liberation Sans','Noto Sans CJK JP',sans-serif" font-size="15" fill="#d1d4dc" textLength="20.6" lengthAdjust="spacingAndGlyphs" font-weight="bold" >8月</text>
<rect x="1048.2" y="916" width="1.2" height="4" fill="#4a4e59"/>
<text x="1045.2" y="939.4" font-family="'Liberation Sans','Noto Sans CJK JP',sans-serif" font-size="15" fill="#d1d4dc" textLength="7.2" lengthAdjust="spacingAndGlyphs" stroke="#d1d4dc" stroke-width="0.35" >8</text>
<rect x="1145.0" y="916" width="1.2" height="4" fill="#4a4e59"/>
<text x="1138.7" y="939.4" font-family="'Liberation Sans','Noto Sans CJK JP',sans-serif" font-size="15" fill="#d1d4dc" textLength="13.8" lengthAdjust="spacingAndGlyphs" stroke="#d1d4dc" stroke-width="0.35" >15</text>
<rect x="1241.9" y="916" width="1.2" height="4" fill="#4a4e59"/>
<text x="1235.5" y="939.4" font-family="'Liberation Sans','Noto Sans CJK JP',sans-serif" font-size="15" fill="#d1d4dc" textLength="14" lengthAdjust="spacingAndGlyphs" stroke="#d1d4dc" stroke-width="0.35" >22</text>
<rect x="1380.3" y="916" width="1.2" height="4" fill="#4a4e59"/>
<text x="1370.6" y="939.4" font-family="'Liberation Sans','Noto Sans CJK JP',sans-serif" font-size="15" fill="#d1d4dc" textLength="20.6" lengthAdjust="spacingAndGlyphs" font-weight="bold" >9月</text>
<text x="1524.6" y="939.4" font-family="'Liberation Sans','Noto Sans CJK JP',sans-serif" font-size="15" fill="#d1d4dc" textLength="6.5" lengthAdjust="spacingAndGlyphs" stroke="#d1d4dc" stroke-width="0.35" >1</text>
<rect x="1529.5" y="917" width="71" height="28" fill="#1a1f2b"/>
<rect x="1529" y="916" width="1.2" height="29" fill="#363a45"/>
<circle cx="1565" cy="933.3" r="5.6" fill="none" stroke="#b2b5be" stroke-width="1.2"/>
<line x1="1572.00" y1="933.30" x2="1574.30" y2="933.30" stroke="#b2b5be" stroke-width="1.2"/>
<line x1="1569.95" y1="938.25" x2="1571.58" y2="939.88" stroke="#b2b5be" stroke-width="1.2"/>
<line x1="1565.00" y1="940.30" x2="1565.00" y2="942.60" stroke="#b2b5be" stroke-width="1.2"/>
<line x1="1560.05" y1="938.25" x2="1558.42" y2="939.88" stroke="#b2b5be" stroke-width="1.2"/>
<line x1="1558.00" y1="933.30" x2="1555.70" y2="933.30" stroke="#b2b5be" stroke-width="1.2"/>
<line x1="1560.05" y1="928.35" x2="1558.42" y2="926.72" stroke="#b2b5be" stroke-width="1.2"/>
<line x1="1565.00" y1="926.30" x2="1565.00" y2="924.00" stroke="#b2b5be" stroke-width="1.2"/>
<line x1="1569.95" y1="928.35" x2="1571.58" y2="926.72" stroke="#b2b5be" stroke-width="1.2"/>
<rect x="0" y="0" width="735" height="28.5" fill="rgba(26,31,43,0.52)"/>
<rect x="0" y="28.5" width="86" height="28.5" fill="rgba(26,31,43,0.52)"/>
<rect x="0" y="57" width="211.5" height="28" fill="rgba(26,31,43,0.52)"/>
<rect x="0" y="85" width="211.5" height="27.8" fill="rgba(26,31,43,0.52)"/>
<rect x="0" y="112.8" width="445" height="28" fill="rgba(26,31,43,0.52)"/>
<text x="6" y="20.7" font-family="'Liberation Sans','Noto Sans CJK JP',sans-serif" font-size="19.2" fill="#d1d4dc" textLength="61.8" lengthAdjust="spacingAndGlyphs" stroke="#d1d4dc" stroke-width="0.3" >bitbank</text>
<circle cx="75" cy="11.4" r="1" fill="#5d606b"/>
<text x="83.2" y="20.8" font-family="'Liberation Sans','Noto Sans CJK JP',sans-serif" font-size="19.2" fill="#d1d4dc" textLength="8.6" lengthAdjust="spacingAndGlyphs" stroke="#d1d4dc" stroke-width="0.3" >1</text>
<text x="93.3" y="20.6" font-family="'Liberation Sans','Noto Sans CJK JP',sans-serif" font-size="16.2" fill="#d1d4dc" stroke="#d1d4dc" stroke-width="0.3" >日</text>
<circle cx="117.7" cy="14.7" r="1" fill="#5d606b"/>
<text x="124.5" y="20.7" font-family="'Liberation Sans','Noto Sans CJK JP',sans-serif" font-size="19.2" fill="#d1d4dc" textLength="62.2" lengthAdjust="spacingAndGlyphs" stroke="#d1d4dc" stroke-width="0.3" >btc_jpy</text>
<circle cx="215.2" cy="14" r="10.5" fill="#17424a" fill-opacity="0.92"/>
<circle cx="215.2" cy="14" r="4.65" fill="#07a594"/>
<text x="244.6" y="18.9" font-family="'Liberation Sans','Noto Sans CJK JP',sans-serif" font-size="13.9" fill="#d1d4dc" textLength="29.8" lengthAdjust="spacingAndGlyphs" stroke="#d1d4dc" stroke-width="0.25" >始値</text>
<text x="276" y="19.2" font-family="'Liberation Sans','Noto Sans CJK JP',sans-serif" font-size="15" fill="#0c9e8c" textLength="54.2" lengthAdjust="spacingAndGlyphs" stroke="#0c9e8c" stroke-width="0.3" >3060376</text>
<text x="338.5" y="18.9" font-family="'Liberation Sans','Noto Sans CJK JP',sans-serif" font-size="13.9" fill="#d1d4dc" textLength="29.8" lengthAdjust="spacingAndGlyphs" stroke="#d1d4dc" stroke-width="0.25" >高値</text>
<text x="370" y="19.2" font-family="'Liberation Sans','Noto Sans CJK JP',sans-serif" font-size="15" fill="#0c9e8c" textLength="54.1" lengthAdjust="spacingAndGlyphs" stroke="#0c9e8c" stroke-width="0.3" >3107583</text>
<text x="432.3" y="18.9" font-family="'Liberation Sans','Noto Sans CJK JP',sans-serif" font-size="13.9" fill="#d1d4dc" textLength="29.8" lengthAdjust="spacingAndGlyphs" stroke="#d1d4dc" stroke-width="0.25" >安値</text>
<text x="463.9" y="19.2" font-family="'Liberation Sans','Noto Sans CJK JP',sans-serif" font-size="15" fill="#0c9e8c" textLength="54" lengthAdjust="spacingAndGlyphs" stroke="#0c9e8c" stroke-width="0.3" >3053390</text>
<text x="525.8" y="18.9" font-family="'Liberation Sans','Noto Sans CJK JP',sans-serif" font-size="13.9" fill="#d1d4dc" textLength="29.8" lengthAdjust="spacingAndGlyphs" stroke="#d1d4dc" stroke-width="0.25" >終値</text>
<text x="557.4" y="19.2" font-family="'Liberation Sans','Noto Sans CJK JP',sans-serif" font-size="15" fill="#0c9e8c" textLength="53.6" lengthAdjust="spacingAndGlyphs" stroke="#0c9e8c" stroke-width="0.3" >3098741</text>
<text x="620" y="19.2" font-family="'Liberation Sans','Noto Sans CJK JP',sans-serif" font-size="15" fill="#0c9e8c" textLength="107.6" lengthAdjust="spacingAndGlyphs" stroke="#0c9e8c" stroke-width="0.3" >+38364 (+1.25%)</text>
<text x="6.3" y="48.3" font-family="'Liberation Sans','Noto Sans CJK JP',sans-serif" font-size="15" fill="#d1d4dc" textLength="48" lengthAdjust="spacingAndGlyphs" stroke="#d1d4dc" stroke-width="0.3" >Volume</text>
<text x="65.2" y="48.3" font-family="'Liberation Sans','Noto Sans CJK JP',sans-serif" font-size="15" fill="#0c9e8c" textLength="14.8" lengthAdjust="spacingAndGlyphs" stroke="#0c9e8c" stroke-width="0.3" >34</text>
<text x="6.3" y="76.05" font-family="'Liberation Sans','Noto Sans CJK JP',sans-serif" font-size="15" fill="#d1d4dc" textLength="98.7" lengthAdjust="spacingAndGlyphs" stroke="#d1d4dc" stroke-width="0.3" xml:space="preserve">EMA 14 close 0</text>
<text x="115.2" y="76.05" font-family="'Liberation Sans','Noto Sans CJK JP',sans-serif" font-size="15" fill="#2d96f0" textLength="91.8" lengthAdjust="spacingAndGlyphs" stroke="#2d96f0" stroke-width="0.3" >3074316.7659</text>
<text x="6.3" y="103.8" font-family="'Liberation Sans','Noto Sans CJK JP',sans-serif" font-size="15" fill="#d1d4dc" textLength="98.7" lengthAdjust="spacingAndGlyphs" stroke="#d1d4dc" stroke-width="0.3" >EMA 53 close 0</text>
<text x="115.2" y="103.8" font-family="'Liberation Sans','Noto Sans CJK JP',sans-serif" font-size="15" fill="#f9e96b" textLength="91.8" lengthAdjust="spacingAndGlyphs" stroke="#f9e96b" stroke-width="0.3" >3137975.5275</text>
<text x="6.3" y="131.7" font-family="'Liberation Sans','Noto Sans CJK JP',sans-serif" font-size="15" fill="#d1d4dc" textLength="133.2" lengthAdjust="spacingAndGlyphs" stroke="#d1d4dc" stroke-width="0.3" >Ichimoku 9 26 52 26</text>
<text x="150" y="131.7" font-family="'Liberation Sans','Noto Sans CJK JP',sans-serif" font-size="15" fill="#43a047" textLength="92" lengthAdjust="spacingAndGlyphs" stroke="#43a047" stroke-width="0.3" >3098741.0000</text>
<text x="248.8" y="131.7" font-family="'Liberation Sans','Noto Sans CJK JP',sans-serif" font-size="15" fill="#a5d6a7" textLength="92.6" lengthAdjust="spacingAndGlyphs" stroke="#a5d6a7" stroke-width="0.3" >2771610.2500</text>
<text x="348.5" y="131.7" font-family="'Liberation Sans','Noto Sans CJK JP',sans-serif" font-size="15" fill="#ef9a9a" textLength="92.5" lengthAdjust="spacingAndGlyphs" stroke="#ef9a9a" stroke-width="0.3" >3293696.0000</text>
<rect x="6.5" y="143.5" width="32.5" height="23" rx="3" fill="none" stroke="#3a3e4a" stroke-width="1"/>
<polyline points="18,157.5 22.7,152.8 27.4,157.5" fill="none" stroke="#d1d4dc" stroke-width="1.8"/>
<text x="946.4" y="339.3" font-family="'Liberation Sans','Noto Sans CJK JP',sans-serif" font-size="23.2" fill="#eef7f8" >長期移動平均線は下落</text>
<text x="1338.4" y="444.5" font-family="'Liberation Sans','Noto Sans CJK JP',sans-serif" font-size="23.2" fill="#eef7f8" >雲は強気示唆</text>
<text x="1070.6" y="734.3" font-family="'Liberation Sans','Noto Sans CJK JP',sans-serif" font-size="23.2" fill="#eef7f8" >価格は短期移動平均線を上回り推移</text>
<circle cx="22.5" cy="889.5" r="18.4" fill="#343844"/>
<path d="M12.8,896.5 C10.5,896.5 9.6,894 9.8,892 C10,889 12,887.2 14.5,887 C15,883.5 17.5,880.6 20.5,880.6 C23.5,880.6 25.5,882.5 26.3,884.8 C27.5,884 29,883.8 30.5,884.3 C33,885 34.2,887 34.3,888.6 C35.6,889.5 36,891 35.9,892.5 C35.7,895 34,896.5 32.5,896.5 Z" fill="#2d96f5"/>
<polyline points="9.3,892 19.2,886.4 25.6,892.4 31.3,886.6" fill="none" stroke="#2a2e39" stroke-width="1.2"/>
<circle cx="19.3" cy="886.5" r="1.5" fill="#2a2e39"/><circle cx="25.6" cy="892.4" r="1.5" fill="#2a2e39"/>
<circle cx="19.3" cy="886.5" r="0.6" fill="#2d96f5"/><circle cx="25.6" cy="892.4" r="0.6" fill="#2d96f5"/>
</svg>
</body></html>
